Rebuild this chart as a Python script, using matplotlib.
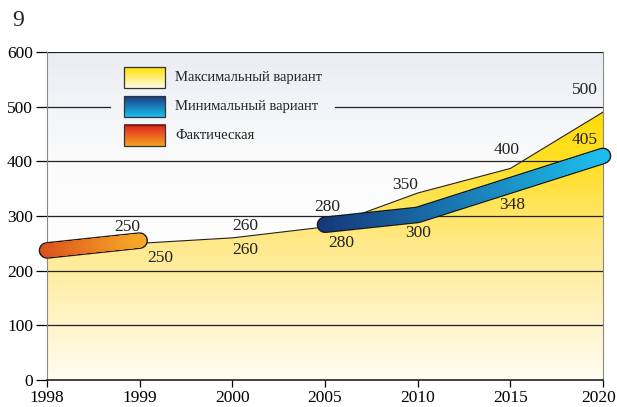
import matplotlib.pyplot as plt
import numpy as np
from matplotlib.collections import LineCollection
from matplotlib.colors import LinearSegmentedColormap
from matplotlib.patches import Polygon
from matplotlib.transforms import ScaledTranslation

plt.rcParams.update({
    "font.family": "Liberation Serif",
    "font.size": 12.5,
})

years = ["1998", "1999", "2000", "2005", "2010", "2015", "2020"]
max_variant = [228, 250, 260, 280, 342, 387, 490]
min_years_idx = [3, 4, 5, 6]
min_variant = [284, 302, 356, 410]
fact_years_idx = [0, 1]
fact_values = [237, 255]

# подписи значений: (текст, x, y)
labels = [
    ("250", 0.87, 280), ("250", 1.22, 223),
    ("260", 2.14, 282), ("260", 2.14, 238),
    ("280", 3.02, 316), ("280", 3.18, 250),
    ("350", 3.86, 356), ("300", 4.0, 269),
    ("400", 4.96, 420), ("348", 5.02, 320),
    ("500", 5.80, 530), ("405", 5.80, 439),
]

legend_names = ["Максимальный вариант", "Минимальный вариант", "Фактическая"]

x = np.arange(len(years))

fig = plt.figure(figsize=(6.17, 4.07), dpi=100)
ax = fig.add_axes([47 / 617, 27 / 407, 556 / 617, 328 / 407])
ax.set_xlim(0, 6)
ax.set_ylim(0, 600)

# фон
bg = LinearSegmentedColormap.from_list("bg", ["#ffffff", "#ffffff", "#fbfbfc", "#eaedf2"])
ax.imshow(np.linspace(0, 1, 256).reshape(-1, 1), cmap=bg, aspect="auto",
          extent=(0, 6, 0, 600), origin="lower", zorder=0)

# область максимального варианта
area_cmap = LinearSegmentedColormap.from_list(
    "area", ["#fffdf2", "#fff3c0", "#ffe98a", "#ffe030", "#ffdc00"])
grad = ax.imshow(np.linspace(0, 1, 256).reshape(-1, 1), cmap=area_cmap,
                 aspect="auto", extent=(0, 6, 0, 500), origin="lower", zorder=1)
poly = Polygon(list(zip(x, max_variant)) + [(6, 0), (0, 0)], closed=True,
               facecolor="none", edgecolor="none")
ax.add_patch(poly)
grad.set_clip_path(poly)
ax.plot(x, max_variant, color="#222222", lw=0.8, zorder=3)

# сетка
for v in [100, 200, 300, 400, 600]:
    ax.axhline(v, color="#222222", lw=0.9, zorder=2)
ax.axhline(500, xmin=0, xmax=(110 - 47) / 556, color="#222222", lw=0.9, zorder=2)
ax.axhline(500, xmin=(335 - 47) / 556, xmax=1, color="#222222", lw=0.9, zorder=2)


def gradient_line(xs, ys, c1, c2, n=200):
    xx = np.interp(np.linspace(0, len(xs) - 1, n), np.arange(len(xs)), xs)
    yy = np.interp(np.linspace(0, len(xs) - 1, n), np.arange(len(xs)), ys)
    ax.plot(xx, yy, color="#1a1a1a", lw=12, solid_capstyle="round", zorder=4,
            clip_on=False)
    pts = np.column_stack([xx, yy]).reshape(-1, 1, 2)
    segs = np.concatenate([pts[:-1], pts[1:]], axis=1)
    cm = LinearSegmentedColormap.from_list("g", [c1, c2])
    lc = LineCollection(segs, colors=cm(np.linspace(0, 1, len(segs))),
                        linewidths=10, capstyle="round", zorder=5)
    lc.set_clip_on(False)
    ax.add_collection(lc)


gradient_line(x[fact_years_idx], fact_values, "#dc521c", "#f5a626")
gradient_line(x[min_years_idx], min_variant, "#15387a", "#1cbcec")

for t, lx, ly in labels:
    ax.text(lx, ly, t, ha="center", va="center", fontsize=12.5, color="#222222", zorder=6)

# легенда
sw_cmaps = [
    ["#fffbe8", "#ffe000"],
    ["#18c0f0", "#1a3a80"],
    ["#f4a324", "#e01e1e"],
]
sw_rows = [67, 96, 125]
for name, cols, top in zip(legend_names, sw_cmaps, sw_rows):
    x0 = (124 - 47) / 556 * 6
    x1 = (165 - 47) / 556 * 6
    y1 = (380 - top) / 328 * 600
    y0 = (380 - top - 21) / 328 * 600
    cm = LinearSegmentedColormap.from_list("s", cols)
    ax.imshow(np.linspace(0, 1, 64).reshape(-1, 1), cmap=cm, aspect="auto",
              extent=(x0, x1, y0, y1), origin="lower", zorder=6)
    ax.add_patch(plt.Rectangle((x0, y0), x1 - x0, y1 - y0, fill=False,
                               edgecolor="#333333", lw=0.9, zorder=7))
    ax.text((175 - 47) / 556 * 6, (y0 + y1) / 2, name, ha="left", va="center",
            fontsize=10.5, color="#222222", zorder=7)

ax.set_xticks(x)
ax.set_xticklabels(years)
ax.set_yticks(range(0, 601, 100))
ax.tick_params(axis="y", length=8, width=0.9, pad=2, labelsize=12.5)
ax.tick_params(axis="x", length=5, width=0.9, pad=2, labelsize=12.5)
ax.spines["left"].set_color("#888888")
ax.spines["right"].set_color("#888888")
ax.spines["top"].set_visible(False)
ax.spines["bottom"].set_color("#222222")
ax.spines["bottom"].set_linewidth(1.2)

last = ax.get_xticklabels()[-1]
last.set_transform(last.get_transform() + ScaledTranslation(-4 / 100, 0, fig.dpi_scale_trans))

fig.text(12 / 617, 1 - 20 / 407, "9", fontsize=17, va="center", ha="left", color="#222222")

fig.savefig("out.png", dpi=100)
